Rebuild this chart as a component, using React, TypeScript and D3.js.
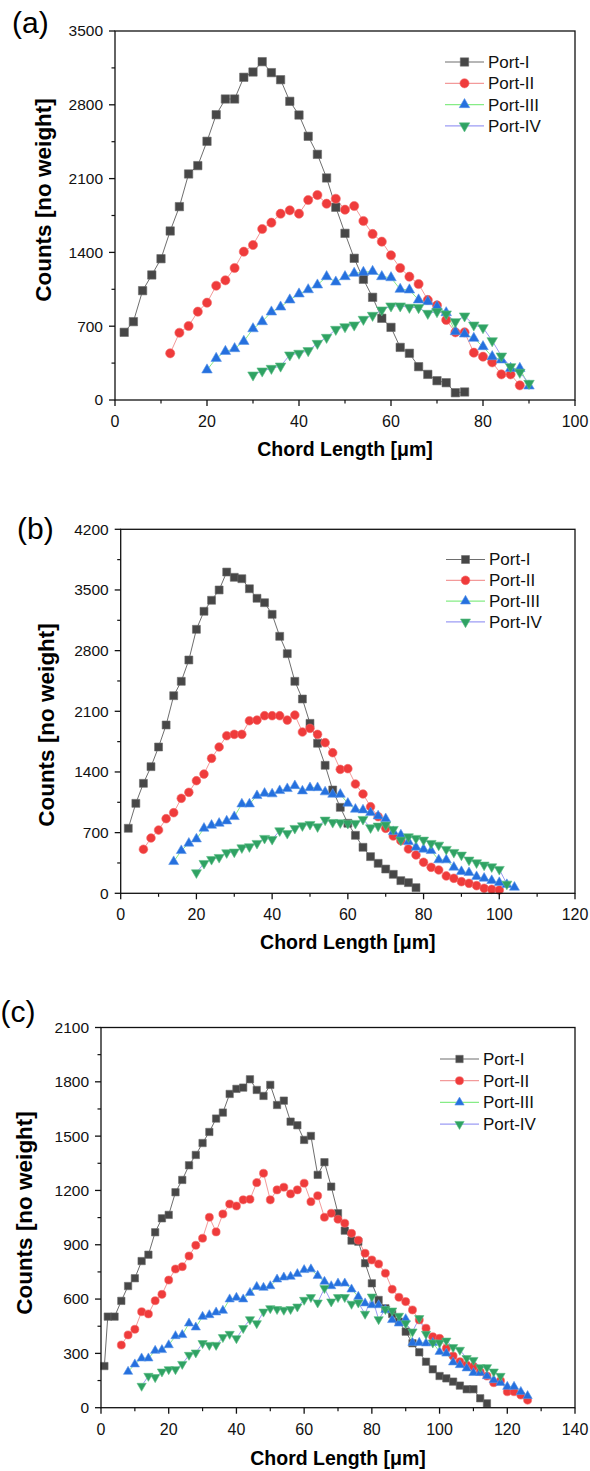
import React from 'react';
import * as d3 from 'd3';

// ---------- DATA ----------
const seriesNames = ['Port-I', 'Port-II', 'Port-III', 'Port-IV'];

// Panel (a)
const aIx = [2,4,6,8,10,12,14,16,18,20,22,24,26,28,30,32,34,36,38,40,42,44,46,48,50,52,54,56,58,60,62,64,66,68,70,72,74,76];
const aIy = [642,743,1037,1186,1340,1603,1834,2144,2223,2454,2706,2855,2855,3061,3111,3209,3105,3038,2833,2703,2501,2330,2106,1828,1581,1344,1145,974,775,689,499,443,316,243,183,164,69,76];
const aIIx = [12,14,16,18,20,22,24,26,28,30,32,34,36,38,40,42,44,46,48,50,52,54,56,58,60,62,64,66,68,70,72,74,76,78,80,82,84,86,88];
const aIIy = [443,638,702,838,923,1084,1135,1252,1407,1470,1622,1682,1767,1799,1767,1897,1944,1862,1909,1805,1840,1698,1575,1502,1373,1252,1170,1100,949,898,759,642,642,449,411,357,243,243,139];
const aIIIx = [20,22,24,26,28,30,32,34,36,38,40,42,44,46,48,50,52,54,56,58,60,62,64,66,68,70,72,74,76,78,80,82,84,86,88,90];
const aIIIy = [285,395,461,487,556,676,743,835,882,949,1006,1046,1091,1170,1119,1170,1202,1211,1220,1170,1160,1050,1044,949,933,885,828,648,626,585,506,411,380,300,300,133];
const aIVx = [30,32,34,36,38,40,42,44,46,48,50,52,54,56,58,60,62,64,66,68,70,72,74,76,78,80,82,84,86,88,90];
const aIVy = [237,275,300,322,427,443,468,537,594,670,695,711,765,803,854,892,892,879,876,822,838,816,743,797,711,686,562,417,316,263,158];

// Panel (b)
const bIx = [2,4,6,8,10,12,14,16,18,20,22,24,26,28,30,32,34,36,38,40,42,44,46,48,50,52,54,56,58,60,62,64,66,68,70,72,74,76,78];
const bIy = [750,1038,1269,1461,1688,1942,2280,2446,2692,3046,3254,3381,3500,3707,3646,3630,3514,3404,3353,3219,2965,2765,2446,2242,1961,1731,1477,1192,992,808,669,531,423,346,280,219,146,123,65];
const bIIx = [6,8,10,12,14,16,18,20,22,24,26,28,30,32,34,36,38,40,42,44,46,48,50,52,54,56,58,60,62,64,66,68,70,72,74,76,78,80,82,84,86,88,90,92,94,96,98,100];
const bIIy = [508,638,730,861,930,1096,1165,1299,1376,1557,1688,1818,1834,1834,1991,1999,2049,2049,2049,1999,2057,1861,1903,1834,1738,1622,1430,1438,1261,1146,999,884,750,661,607,511,442,358,300,269,200,173,134,115,88,58,46,38];
const bIIIx = [14,16,18,20,22,24,26,28,30,32,34,36,38,40,42,44,46,48,50,52,54,56,58,60,62,64,66,68,70,72,74,76,78,80,82,84,86,88,90,92,94,96,98,100,102,104];
const bIIIy = [365,492,577,626,750,784,807,834,884,1030,1030,1126,1153,1146,1184,1207,1241,1180,1218,1218,1169,1142,1142,1038,969,961,930,892,860,711,673,596,531,508,492,385,385,300,250,238,192,173,146,123,100,69];
const bIVx = [20,22,24,26,28,30,32,34,36,38,40,42,44,46,48,50,52,54,56,58,60,62,64,66,68,70,72,74,76,78,80,82,84,86,88,90,92,94,96,98,100,102];
const bIVy = [238,346,392,415,469,477,526,538,577,635,623,722,692,750,780,796,769,846,819,815,808,808,854,757,777,788,738,615,653,635,615,577,557,508,473,442,385,353,327,307,277,107];

// Panel (c)
const cIx = [1,2,4,6,8,10,12,14,16,18,20,22,24,26,28,30,32,34,36,38,40,42,44,46,48,50,52,54,56,58,60,62,64,66,68,70,72,74,76,78,80,82,84,86,88,90,92,94,96,98,100,102,104,106,108,110,112,114];
const cIy = [230,503,503,590,672,715,810,845,969,1046,1065,1190,1258,1339,1396,1462,1523,1597,1630,1733,1761,1768,1814,1755,1722,1783,1672,1696,1580,1560,1479,1501,1286,1356,1221,1074,978,923,917,798,687,595,549,518,475,420,356,306,254,212,175,162,144,122,102,102,52,24];
const cIIx = [6,8,10,12,14,16,18,20,22,24,26,28,30,32,34,36,38,40,42,44,46,48,50,52,54,56,58,60,62,64,66,68,70,72,74,76,78,80,82,84,86,88,90,92,94,96,98,100,102,104,106,108,110,112,114,116,118,120,122,124,126];
const cIIy = [346,402,433,530,518,591,626,705,766,779,838,897,936,1052,971,1070,1125,1114,1148,1151,1243,1295,1148,1203,1218,1181,1203,1240,1138,1171,1052,1074,1041,1019,963,925,853,816,794,743,654,610,586,540,485,439,392,383,328,286,254,236,227,199,175,138,149,88,88,70,42];
const cIIIx = [8,10,12,14,16,18,20,22,24,26,28,30,32,34,36,38,40,42,44,46,48,50,52,54,56,58,60,62,64,66,68,70,72,74,76,78,80,82,84,86,88,90,92,94,96,98,100,102,104,106,108,110,112,114,116,118,120,122,124,126];
const cIIIy = [199,240,273,273,315,319,346,396,402,466,444,503,512,527,536,599,608,599,635,668,663,672,709,720,724,739,761,765,729,696,672,687,687,654,613,577,567,567,540,485,466,490,359,359,356,359,309,300,251,236,218,193,193,175,153,138,116,116,88,65];
const cIVx = [12,14,16,18,20,22,24,26,28,30,32,34,36,38,40,42,44,46,48,50,52,54,56,58,60,62,64,66,68,70,72,74,76,78,80,82,84,86,88,90,92,94,96,98,100,102,104,106,108,110,112,114,116,118];
const cIVy = [120,175,168,199,212,212,241,291,304,356,346,346,389,407,383,439,488,466,530,549,544,540,544,558,595,610,580,660,586,610,610,573,580,518,613,488,544,536,507,466,420,494,407,359,359,370,334,319,273,263,223,223,199,175];

// Axis ticks
const xTicksA = [0, 20, 40, 60, 80, 100];
const yTicksA = [0, 700, 1400, 2100, 2800, 3500];
const xTicksB = [0, 20, 40, 60, 80, 100, 120];
const yTicksB = [0, 700, 1400, 2100, 2800, 3500, 4200];
const xTicksC = [0, 20, 40, 60, 80, 100, 120, 140];
const yTicksC = [0, 300, 600, 900, 1200, 1500, 1800, 2100];

// ---------- STYLE ----------
const markerFill = ['#474747', '#ef3b3b', '#2570de', '#2fa263'];
const markerStroke = ['#6a6a6a', '#f46a6a', '#5b95ea', '#5bbd85'];
const lineColor = ['#6e6e6e', '#f39a9a', '#86ec86', '#9c9cf4'];
const FONT = "'Liberation Sans', Arial, Helvetica, sans-serif";

type PanelCfg = {
  label: string;
  labelX: number;
  labelY: number;
  left: number; right: number; top: number; bottom: number;
  xTicks: number[]; xMinorStep: number;
  yTicks: number[]; yMinorStep: number;
  series: { x: number[]; y: number[] }[];
  legendX: number; legendY: number; legendGap: number;
  yTitleX: number; yTitleY: number;
  xTitleY: number;
  mScale: number;
};

const panels: PanelCfg[] = [
  {
    label: '(a)', labelX: 12, labelY: 33,
    left: 115, right: 575, top: 31, bottom: 400,
    xTicks: xTicksA, xMinorStep: 10, yTicks: yTicksA, yMinorStep: 350,
    series: [{ x: aIx, y: aIy }, { x: aIIx, y: aIIy }, { x: aIIIx, y: aIIIy }, { x: aIVx, y: aIVy }],
    legendX: 445, legendY: 62, legendGap: 21.3,
    yTitleX: 43, yTitleY: 200, xTitleY: 456, mScale: 1,
  },
  {
    label: '(b)', labelX: 17, labelY: 539,
    left: 120.7, right: 575, top: 529.3, bottom: 893.3,
    xTicks: xTicksB, xMinorStep: 10, yTicks: yTicksB, yMinorStep: 350,
    series: [{ x: bIx, y: bIy }, { x: bIIx, y: bIIy }, { x: bIIIx, y: bIIIy }, { x: bIVx, y: bIVy }],
    legendX: 446, legendY: 559.5, legendGap: 20.8,
    yTitleX: 46, yTitleY: 725, xTitleY: 949, mScale: 0.95,
  },
  {
    label: '(c)', labelX: 0.5, labelY: 1022,
    left: 101, right: 575, top: 1027.5, bottom: 1407.7,
    xTicks: xTicksC, xMinorStep: 10, yTicks: yTicksC, yMinorStep: 150,
    series: [{ x: cIx, y: cIy }, { x: cIIx, y: cIIy }, { x: cIIIx, y: cIIIy }, { x: cIVx, y: cIVy }],
    legendX: 440, legendY: 1059, legendGap: 21.7,
    yTitleX: 24, yTitleY: 1213, xTitleY: 1465, mScale: 0.88,
  },
];

function markerPath(i: number, s: number): string {
  const sizes = [70, 66, 48, 48];
  const types = [d3.symbolSquare, d3.symbolCircle, d3.symbolTriangle, d3.symbolTriangle];
  return d3.symbol().type(types[i]).size(sizes[i] * s * s)() as string;
}

function Marker({ i, x, y, s }: { i: number; x: number; y: number; s: number }) {
  const rot = i === 3 ? ' rotate(180)' : '';
  return (
    <path
      d={markerPath(i, s)}
      transform={`translate(${x},${y})${rot}`}
      fill={markerFill[i]}
      stroke={markerStroke[i]}
      strokeWidth={0.6}
    />
  );
}

function Panel({ p }: { p: PanelCfg }) {
  const xMax = p.xTicks[p.xTicks.length - 1];
  const yMax = p.yTicks[p.yTicks.length - 1];
  const xs = d3.scaleLinear().domain([0, xMax]).range([p.left, p.right]);
  const ys = d3.scaleLinear().domain([0, yMax]).range([p.bottom, p.top]);
  const xMinor = d3.range(0, xMax + 0.001, p.xMinorStep).filter((v) => !p.xTicks.includes(v));
  const yMinor = d3.range(0, yMax + 0.001, p.yMinorStep).filter((v) => !p.yTicks.includes(v));
  const line = d3.line<[number, number]>().x((d) => xs(d[0])).y((d) => ys(d[1]));
  const majorLen = 6;
  const minorLen = 3.5;

  return (
    <g fontFamily={FONT}>
      <text x={p.labelX} y={p.labelY} fontSize={30} fill="#000">{p.label}</text>

      {p.series.map((s, i) => (
        <path
          key={'l' + i}
          d={line(s.x.map((v, k) => [v, s.y[k]] as [number, number])) as string}
          fill="none"
          stroke={lineColor[i]}
          strokeWidth={1}
        />
      ))}
      {p.series.map((s, i) => (
        <g key={'m' + i}>
          {s.x.map((v, k) => (
            <Marker key={k} i={i} x={xs(v)} y={ys(s.y[k])} s={p.mScale} />
          ))}
        </g>
      ))}

      <rect x={p.left} y={p.top} width={p.right - p.left} height={p.bottom - p.top} fill="none" stroke="#111" strokeWidth={1.3} />

      {p.xTicks.map((v) => (
        <g key={'xt' + v}>
          <line x1={xs(v)} x2={xs(v)} y1={p.bottom} y2={p.bottom + majorLen} stroke="#111" strokeWidth={1.3} />
          <text x={xs(v)} y={p.bottom + 27} fontSize={16} textAnchor="middle" fill="#111">{v}</text>
        </g>
      ))}
      {xMinor.map((v) => (
        <line key={'xm' + v} x1={xs(v)} x2={xs(v)} y1={p.bottom} y2={p.bottom + minorLen} stroke="#111" strokeWidth={1.2} />
      ))}
      {p.yTicks.map((v) => (
        <g key={'yt' + v}>
          <line x1={p.left - majorLen} x2={p.left} y1={ys(v)} y2={ys(v)} stroke="#111" strokeWidth={1.3} />
          <text x={p.left - 12} y={ys(v)} dy="0.35em" fontSize={15.5} textAnchor="end" fill="#111">{v}</text>
        </g>
      ))}
      {yMinor.map((v) => (
        <line key={'ym' + v} x1={p.left - minorLen} x2={p.left} y1={ys(v)} y2={ys(v)} stroke="#111" strokeWidth={1.2} />
      ))}

      <text
        transform={`translate(${p.yTitleX},${p.yTitleY}) rotate(-90)`}
        dy="0.35em"
        textAnchor="middle"
        fontSize={22.5}
        fontWeight="bold"
        fill="#000"
      >
        Counts [no weight]
      </text>
      <text x={(p.left + p.right) / 2} y={p.xTitleY} textAnchor="middle" fontSize={19.5} fontWeight="bold" fill="#000">
        Chord Length [μm]
      </text>

      {seriesNames.map((n, i) => {
        const y = p.legendY + i * p.legendGap;
        return (
          <g key={'lg' + i}>
            <line x1={p.legendX} x2={p.legendX + 39} y1={y} y2={y} stroke={lineColor[i]} strokeWidth={1.2} />
            <Marker i={i} x={p.legendX + 19.5} y={y} s={p.mScale} />
            <text x={p.legendX + 43} y={y} dy="0.35em" fontSize={17} fill="#111">{n}</text>
          </g>
        );
      })}
    </g>
  );
}

export default function App() {
  return (
    <svg width={590} height={1471} style={{ display: 'block', position: 'absolute', left: 0, top: 0, background: '#fff' }}>
      <rect x={0} y={0} width={590} height={1471} fill="#fff" />
      {panels.map((p) => (
        <Panel key={p.label} p={p} />
      ))}
    </svg>
  );
}
